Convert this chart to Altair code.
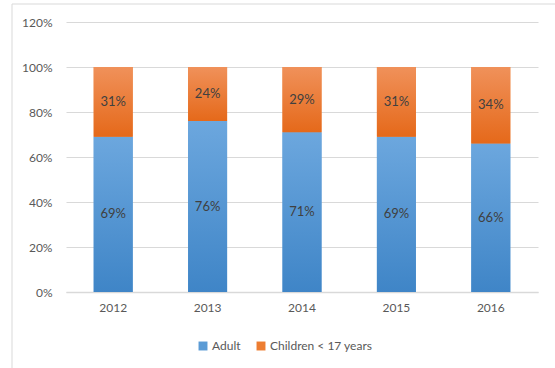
import altair as alt
import pandas as pd

years = ["2012", "2013", "2014", "2015", "2016"]
adult = [69, 76, 71, 69, 66]
children = [31, 24, 29, 31, 34]
series = ["Adult", "Children < 17 years"]
colors = ["#5B9BD5", "#ED7D31"]
y_ticks = [0, 20, 40, 60, 80, 100, 120]

rows = []
for yr, a, c in zip(years, adult, children):
    rows.append({"year": yr, "series": series[0], "value": a, "start": 0, "end": a})
    rows.append({"year": yr, "series": series[1], "value": c, "start": a, "end": a + c})
df = pd.DataFrame(rows)
df["mid"] = (df["start"] + df["end"]) / 2
df["label"] = df["value"].astype(str) + "%"

FONT = "Lato"

x_enc = alt.X(
    "year:N",
    title=None,
    sort=years,
    scale=alt.Scale(paddingInner=0.587, paddingOuter=0.2935),
    axis=alt.Axis(labelAngle=0, ticks=False, domainColor="#d9d9d9", domainWidth=1.5,
                  labelPadding=10, labelFontSize=12, labelColor="#595959", labelFont=FONT),
)
y_scale = alt.Scale(domain=[0, 120], nice=False)

base = alt.Chart(df)

bars = base.mark_bar().encode(
    x=x_enc,
    y=alt.Y("start:Q", scale=y_scale, title=None,
            axis=alt.Axis(values=y_ticks, labelExpr="datum.value + '%'", domain=False, ticks=False,
                          gridColor="#d9d9d9", labelPadding=14, labelFontSize=12,
                          labelColor="#595959", labelFont=FONT)),
    y2="end:Q",
    color=alt.Color("series:N", scale=alt.Scale(domain=series, range=colors),
                    legend=alt.Legend(title=None, orient="none", direction="horizontal",
                                      legendX=131, legendY=318, symbolType="square",
                                      symbolSize=80, symbolStrokeWidth=0, symbolOpacity=1,
                                      labelFontSize=12, labelColor="#595959", labelFont=FONT,
                                      columnPadding=14, symbolOffset=0, labelOffset=3)),
)

grad_adult = {"gradient": "linear", "x1": 0, "y1": 0, "x2": 0, "y2": 1,
              "stops": [{"offset": 0, "color": "#6CA7DE"}, {"offset": 1, "color": "#3F85C7"}]}
grad_child = {"gradient": "linear", "x1": 0, "y1": 0, "x2": 0, "y2": 1,
              "stops": [{"offset": 0, "color": "#F0915A"}, {"offset": 1, "color": "#E5691A"}]}

over_adult = base.transform_filter(alt.datum.series == series[0]).mark_bar(fill=grad_adult).encode(
    x=x_enc, y=alt.Y("start:Q", scale=y_scale), y2="end:Q")
over_child = base.transform_filter(alt.datum.series == series[1]).mark_bar(fill=grad_child).encode(
    x=x_enc, y=alt.Y("start:Q", scale=y_scale), y2="end:Q")

labels = base.mark_text(font=FONT, fontSize=13, color="#404040").encode(
    x=x_enc, y=alt.Y("mid:Q", scale=y_scale), text="label:N")

border = alt.Chart(pd.DataFrame({"a": [0]})).mark_rect(
    fill=None, stroke="#d9d9d9", strokeWidth=1).encode(
    x=alt.value(-54), y=alt.value(-18), x2=alt.value(620), y2=alt.value(420))

chart = alt.layer(border, bars, over_adult, over_child, labels).properties(
    width=472, height=270,
    autosize=alt.AutoSizeParams(type="none"),
    padding={"left": 66, "top": 22, "right": 17, "bottom": 76},
).configure_view(stroke=None)

chart.save("out.html", embed_options={"renderer": "svg", "actions": False})
